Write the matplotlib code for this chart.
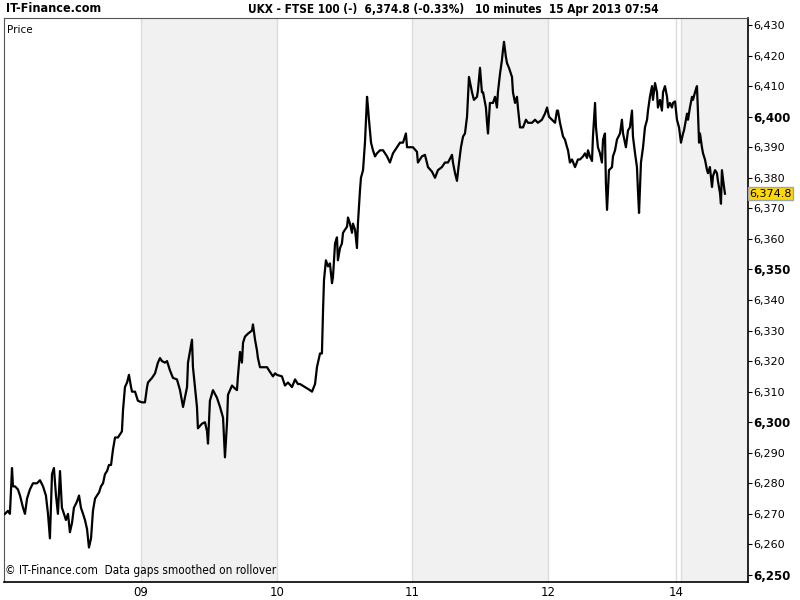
import numpy as np
import matplotlib.pyplot as plt

# 10-minute FTSE 100 prices, time in trading hours since 08 Apr 08:00
hours = [0.00, 0.19, 0.31, 0.44, 0.50, 0.63, 0.81, 0.94, 1.13, 1.25, 1.38, 1.56, 1.75, 2.00, 2.19,
         2.38, 2.56, 2.69, 2.81, 2.94, 3.06, 3.19, 3.31, 3.44, 3.56, 3.69, 3.81, 3.94, 4.06, 4.19,
         4.31, 4.50, 4.63, 4.75, 4.88, 5.00, 5.13, 5.25, 5.38, 5.50, 5.63, 5.75, 5.88, 6.00, 6.13,
         6.25, 6.38, 6.50, 6.63, 6.75, 6.88, 7.06, 7.31, 7.38, 7.50, 7.63, 7.75, 7.88, 7.94, 8.13,
         8.31, 8.56, 8.75, 8.88, 8.94, 9.19, 9.38, 9.56, 9.69, 9.81, 10.00, 10.13, 10.31, 10.50, 10.75,
         10.94, 11.06, 11.13, 11.38, 11.44, 11.69, 11.75, 12.00, 12.06, 12.31, 12.50, 12.63, 12.69, 12.81, 13.00,
         13.25, 13.44, 13.63, 13.75, 13.88, 13.94, 14.19, 14.38, 14.50, 14.56, 14.69, 14.81, 14.88, 15.00, 15.19,
         15.44, 15.50, 15.63, 15.75, 15.81, 15.94, 16.13, 16.38, 16.56, 16.75, 16.88, 17.00, 17.31, 17.50, 17.69,
         17.94, 18.13, 18.31, 18.44, 18.75, 19.06, 19.19, 19.38, 19.50, 19.69, 19.81, 19.88, 19.94, 20.06, 20.19,
         20.31, 20.44, 20.50, 20.63, 20.75, 20.81, 20.94, 21.06, 21.13, 21.25, 21.38, 21.44, 21.56, 21.69, 21.75,
         21.88, 22.00, 22.06, 22.19, 22.25, 22.38, 22.44, 22.50, 22.63, 22.69, 22.75, 22.88, 23.00, 23.13, 23.25,
         23.44, 23.63, 23.88, 24.06, 24.25, 24.50, 24.69, 24.88, 25.06, 25.13, 25.31, 25.50, 25.75, 25.81, 26.06,
         26.25, 26.44, 26.69, 26.88, 27.06, 27.31, 27.50, 27.69, 27.94, 28.00, 28.13, 28.25, 28.38, 28.50, 28.63,
         28.75, 28.88, 28.94, 29.00, 29.19, 29.31, 29.50, 29.56, 29.69, 29.81, 29.88, 30.06, 30.13, 30.19, 30.31,
         30.50, 30.63, 30.75, 30.81, 30.94, 31.06, 31.13, 31.19, 31.31, 31.38, 31.50, 31.69, 31.75, 31.88, 32.00,
         32.06, 32.19, 32.38, 32.56, 32.69, 32.94, 33.13, 33.31, 33.56, 33.75, 33.88, 34.00, 34.19, 34.38, 34.50,
         34.56, 34.69, 34.88, 35.00, 35.13, 35.19, 35.31, 35.44, 35.63, 35.81, 35.94, 36.13, 36.25, 36.38, 36.44,
         36.56, 36.69, 36.75, 36.88, 36.94, 37.06, 37.19, 37.31, 37.38, 37.50, 37.56, 37.63, 37.75, 37.94, 38.00,
         38.13, 38.25, 38.44, 38.56, 38.63, 38.81, 38.94, 39.06, 39.19, 39.25, 39.38, 39.50, 39.56, 39.63, 39.75,
         39.88, 40.00, 40.13, 40.19, 40.31, 40.44, 40.50, 40.63, 40.75, 40.81, 40.94, 41.06, 41.13, 41.25, 41.38,
         41.44, 41.56, 41.69, 41.75, 41.88, 42.00, 42.13, 42.25, 42.38, 42.44, 42.63, 42.69, 42.81, 42.94, 43.00,
         43.13, 43.25, 43.31, 43.38, 43.44, 43.56, 43.63, 43.75, 43.88, 43.94, 44.06, 44.19, 44.25, 44.38, 44.50,
         44.56, 44.69, 44.75, 44.81, 44.94, 45.00]

price = [6270, 6271, 6270, 6285, 6279, 6279, 6278, 6276, 6272, 6270, 6275, 6278, 6280, 6280, 6281,
         6279, 6276, 6270, 6262, 6283, 6285, 6276, 6270, 6284, 6272, 6270, 6268, 6270, 6264, 6267,
         6272, 6274, 6276, 6272, 6270, 6268, 6265, 6259, 6262, 6271, 6275, 6276, 6277, 6279, 6280,
         6283, 6284, 6286, 6286, 6291, 6295, 6295, 6297, 6304, 6311.5, 6313, 6315.5, 6311.5, 6310, 6310,
         6307, 6306.5, 6306.5, 6311.5, 6313, 6314.5, 6316, 6319.5, 6321, 6320, 6319.5, 6320, 6317, 6314.5, 6314,
         6310.5, 6307, 6305, 6311.5, 6319.5, 6327, 6318, 6305, 6298, 6299.5, 6300, 6297, 6293, 6307, 6310.5,
         6308, 6305, 6301.5, 6288.5, 6300, 6309, 6312, 6311, 6310.5, 6315, 6323, 6319.5, 6326, 6328, 6329,
         6330, 6332, 6327, 6323.5, 6321, 6318, 6318, 6318, 6316.5, 6315, 6316, 6315.5, 6315, 6312, 6313,
         6311.5, 6314, 6312.5, 6312.5, 6311.5, 6310.5, 6310, 6312.5, 6318, 6322.5, 6322.5, 6336.5, 6346.5, 6353, 6351,
         6352, 6345.5, 6347.5, 6358.5, 6360.5, 6353, 6357, 6358.5, 6362, 6363, 6364, 6367, 6365, 6362, 6365,
         6363, 6357, 6365, 6376, 6380, 6382.5, 6387, 6391.5, 6406.5, 6403, 6399, 6391.5, 6389, 6387, 6388,
         6389, 6389, 6387, 6385, 6388, 6390, 6391.5, 6391.5, 6394.5, 6390, 6390, 6390, 6388.5, 6385, 6387,
         6387.5, 6383.5, 6382, 6380, 6382.5, 6383.5, 6385, 6385, 6387.5, 6385, 6381.5, 6379, 6385, 6390, 6393.5,
         6394.5, 6400, 6406.5, 6413, 6408, 6405.5, 6406.5, 6408.5, 6416, 6408, 6408, 6403, 6398, 6394.5, 6404.5,
         6404.5, 6406.5, 6403, 6408, 6414, 6418.5, 6422, 6424.5, 6419.5, 6417.5, 6416, 6413, 6408, 6404.5, 6406.5,
         6403, 6396.5, 6396.5, 6399, 6398, 6398, 6399, 6398, 6399, 6401, 6403, 6400, 6399, 6398, 6402,
         6402, 6398, 6393.5, 6392.5, 6390, 6389, 6385, 6386, 6383.5, 6386, 6386, 6387, 6388, 6386.5, 6389,
         6387, 6385.5, 6393.5, 6404.5, 6396.5, 6390, 6388, 6385, 6392.5, 6394.5, 6378, 6369.5, 6382.5, 6383.5, 6387,
         6389, 6392.5, 6394.5, 6399, 6394.5, 6390, 6395.5, 6396.5, 6402, 6393.5, 6388, 6383.5, 6376, 6368.5, 6385,
         6390, 6396.5, 6399, 6402, 6406.5, 6410, 6405.5, 6411, 6408, 6403, 6405.5, 6402, 6408, 6410, 6406.5,
         6403, 6404.5, 6403, 6404.5, 6405, 6399, 6396.5, 6391.5, 6394.5, 6395.5, 6401, 6399, 6403, 6406.5, 6405.5,
         6408, 6410, 6402, 6391.5, 6394.5, 6390, 6388, 6386, 6382.5, 6381.5, 6383.5, 6377, 6380.5, 6382.5, 6381.5,
         6379, 6375, 6371.5, 6382.5, 6377, 6374.8]

# session boundaries (trading hours) and their labels
day_start = [0, 8.5, 17, 25.44, 33.94, 41.94, 42.25]
day_label = ['08', '09', '10', '11', '12', '14', '15']
shaded_days = ['09', '11', '15']
tick_days = ['09', '10', '11', '12', '14']

last_price = 6374.8
price_ticks = np.arange(6250, 6431, 10)

fig = plt.figure(figsize=(8, 6), dpi=100)
ax = fig.add_axes([4 / 800, 18 / 600, 744 / 800, 564 / 600])

x_end = 46.44
for i, d in enumerate(day_label):
    nxt = day_start[i + 1] if i + 1 < len(day_start) else x_end
    if d in shaded_days:
        ax.axvspan(day_start[i], nxt, color='#f1f1f1', lw=0, zorder=0)
    if i > 0:
        ax.axvline(day_start[i], color='#dcdcdc', lw=1, zorder=1)

ax.plot(hours, price, color='black', lw=1.6, zorder=3)

ax.set_xlim(-0.06, x_end)
ax.set_ylim(6247.7, 6432.3)

ax.yaxis.tick_right()
ax.set_yticks(price_ticks)
ax.set_yticklabels([f'{v:,}' for v in price_ticks])
for lbl, v in zip(ax.get_yticklabels(), price_ticks):
    lbl.set_fontweight('bold' if v % 50 == 0 else 'normal')
    lbl.set_fontsize(8.5 if v % 50 == 0 else 8)
ax.tick_params(axis='y', length=3, width=0.8, pad=1, colors='black')

ax.set_xticks([day_start[day_label.index(d)] for d in tick_days])
ax.set_xticklabels(tick_days, fontsize=8.5)
ax.tick_params(axis='x', length=0, pad=3)

for s in ['left', 'top']:
    ax.spines[s].set_color('#555555')
    ax.spines[s].set_linewidth(0.8)
for s in ['right', 'bottom']:
    ax.spines[s].set_color('black')
    ax.spines[s].set_linewidth(1.2)

# last price box
ax.annotate(f'{last_price:,.1f}', xy=(1.0, last_price), xycoords=('axes fraction', 'data'),
            xytext=(1, 0), textcoords='offset points', ha='left', va='center',
            fontsize=8, zorder=5, annotation_clip=False,
            bbox=dict(boxstyle='square,pad=0.12', fc='#ffd800', ec='#9aa6b2', lw=1))

ax.text(0.004, 0.988, 'Price', transform=ax.transAxes, ha='left', va='top', fontsize=7.5)
ax.text(0.002, 0.008, '© IT-Finance.com  Data gaps smoothed on rollover', transform=ax.transAxes,
        ha='left', va='bottom', fontsize=8.5, fontstretch='condensed')

fig.text(6 / 800, 1 - 9 / 600, 'IT-Finance.com', ha='left', va='center',
         fontsize=9, fontweight='bold', fontstretch='condensed')
fig.text(248 / 800, 1 - 9 / 600, 'UKX - FTSE 100 (-)  6,374.8 (-0.33%)   10 minutes  15 Apr 2013 07:54',
         ha='left', va='center', fontsize=8.5, fontweight='bold', fontstretch='condensed')

fig.savefig('out.png', dpi=100)
